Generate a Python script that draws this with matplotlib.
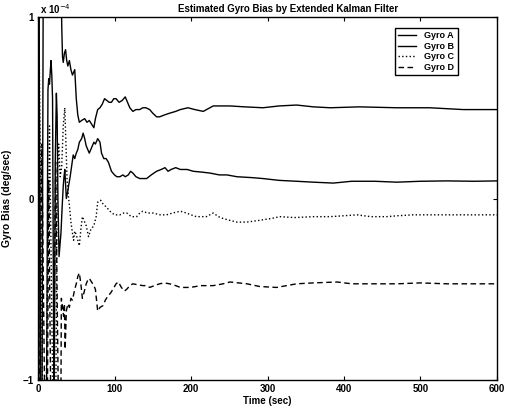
import numpy as np
import matplotlib
matplotlib.use('Agg')
import matplotlib.pyplot as plt

plt.rcParams['font.family'] = ['Liberation Sans', 'DejaVu Sans']

# gyro bias estimates, units of 1e-4 deg/sec
gyro_a_t = [0, 4, 8, 30, 31, 32, 33, 34.5, 36, 37.5, 39, 41, 43, 45, 48, 50, 52, 54, 57, 61, 64, 67,
            70, 73, 75, 78, 81, 84, 87, 90, 93, 96, 99, 102, 106, 110, 114, 117, 120, 124, 128, 133,
            137, 141, 146, 150, 155, 159, 165, 172, 180, 186, 196, 205, 216, 229, 240, 251, 270, 294,
            315, 338, 360, 382, 420, 469, 512, 556, 600]
gyro_a = [3.0, -3.0, 3.0, 1.3, 0.95, 0.78, 0.75, 0.80, 0.82, 0.76, 0.73, 0.76, 0.71, 0.68, 0.71, 0.55,
          0.46, 0.42, 0.43, 0.44, 0.42, 0.43, 0.41, 0.39, 0.44, 0.49, 0.50, 0.52, 0.55, 0.54, 0.53,
          0.53, 0.55, 0.55, 0.53, 0.54, 0.56, 0.53, 0.50, 0.48, 0.49, 0.49, 0.50, 0.50, 0.49, 0.47,
          0.45, 0.45, 0.46, 0.47, 0.48, 0.49, 0.50, 0.49, 0.48, 0.51, 0.51, 0.51, 0.505, 0.50, 0.51,
          0.515, 0.505, 0.50, 0.505, 0.50, 0.50, 0.49, 0.49]

gyro_b_t = [0, 6, 11, 13, 14, 15, 16, 17, 18, 19, 21, 22.5, 24, 25, 26, 27.5, 29, 30, 31.5, 33, 34, 35,
            36, 37, 38.5, 40, 42, 44, 46, 48, 50, 52, 54, 57, 59, 61, 63, 65, 67, 70, 73, 75, 78, 81,
            83, 86, 89, 92, 96, 100, 103, 107, 111, 114, 118, 121, 124, 128, 133, 138, 142, 148, 155,
            161, 166, 170, 174, 180, 186, 195, 203, 215, 225, 237, 247, 260, 280, 294, 315, 338, 360,
            386, 410, 440, 469, 500, 534, 570, 600]
gyro_b = [2.0, -3.0, -1.2, 0.60, 0.66, 0.63, 0.70, 0.76, 0.68, 0.55, -1.3, 0.2, 0.58, 0.45, 0.0, -0.32,
          -0.24, -0.19, -0.05, 0.07, 0.12, 0.16, 0.08, 0.0, 0.03, 0.07, 0.12, 0.18, 0.24, 0.22, 0.25,
          0.27, 0.31, 0.33, 0.36, 0.33, 0.29, 0.27, 0.25, 0.28, 0.31, 0.30, 0.33, 0.31, 0.25, 0.22,
          0.22, 0.20, 0.15, 0.13, 0.12, 0.12, 0.13, 0.12, 0.13, 0.15, 0.14, 0.12, 0.11, 0.11, 0.11,
          0.13, 0.15, 0.16, 0.17, 0.15, 0.16, 0.17, 0.16, 0.16, 0.15, 0.145, 0.14, 0.13, 0.13, 0.12,
          0.115, 0.11, 0.10, 0.095, 0.09, 0.085, 0.095, 0.095, 0.09, 0.095, 0.097, 0.095, 0.097]

gyro_c_t = [0, 8, 15, 22, 25, 27, 29, 31, 33, 35, 36.5, 38, 40, 41.5, 43, 45, 46.5, 48, 50, 52, 54, 56,
            58, 60, 63, 66, 69, 73, 76, 78, 82, 85, 90, 94, 100, 107, 112, 116, 122, 129, 133, 137,
            143, 150, 160, 168, 176, 186, 194, 200, 207, 220, 229, 236, 242, 250, 260, 273, 290, 305,
            316, 335, 360, 382, 400, 417, 435, 456, 470, 490, 520, 556, 600]
gyro_c = [1.5, -2.0, 0.4, -2.0, 0.1, 0.3, 0.12, 0.18, 0.4, 0.5, 0.3, 0.1, 0.0, -0.06, -0.13, -0.19,
          -0.23, -0.18, -0.20, -0.23, -0.26, -0.17, -0.10, -0.12, -0.15, -0.21, -0.17, -0.15, -0.10,
          -0.02, -0.01, -0.03, -0.05, -0.07, -0.09, -0.09, -0.08, -0.08, -0.10, -0.10, -0.08, -0.07,
          -0.08, -0.08, -0.09, -0.09, -0.08, -0.07, -0.08, -0.09, -0.10, -0.10, -0.08, -0.10, -0.11,
          -0.12, -0.13, -0.13, -0.12, -0.11, -0.10, -0.105, -0.10, -0.10, -0.095, -0.09, -0.10,
          -0.10, -0.095, -0.09, -0.09, -0.09, -0.09]

gyro_d_t = [0, 5, 11, 14, 18.5, 23, 29, 30.5, 32, 33.5, 34.5, 35.5, 37, 39, 41, 43, 45, 48, 50, 52, 54,
            56, 58, 60, 63, 65, 67, 70, 73, 75, 78, 81, 85, 88, 91, 95, 98, 102, 105, 109, 113, 116,
            120, 124, 130, 137, 142, 146, 152, 159, 165, 172, 180, 186, 193, 199, 206, 212, 220, 229,
            242, 251, 262, 273, 290, 312, 325, 338, 360, 391, 410, 435, 469, 500, 534, 570, 600]
gyro_d = [-2.0, 0.3, -2.0, 0.1, -2.0, 0.2, -2.0, -0.55, -0.60, -0.65, -0.58, -0.83, -0.62, -0.58,
          -0.60, -0.55, -0.56, -0.50, -0.47, -0.43, -0.41, -0.47, -0.55, -0.52, -0.47, -0.45, -0.44,
          -0.46, -0.48, -0.50, -0.62, -0.60, -0.59, -0.56, -0.54, -0.52, -0.50, -0.47, -0.46, -0.49,
          -0.51, -0.50, -0.48, -0.47, -0.475, -0.48, -0.48, -0.49, -0.48, -0.47, -0.465, -0.47,
          -0.48, -0.49, -0.49, -0.49, -0.485, -0.48, -0.48, -0.48, -0.47, -0.46, -0.465, -0.47,
          -0.485, -0.49, -0.48, -0.47, -0.465, -0.46, -0.47, -0.47, -0.47, -0.465, -0.47, -0.47, -0.47]

fig = plt.figure(figsize=(5.09, 4.09), dpi=100)
ax = fig.add_axes([0.0747, 0.0709, 0.9017, 0.8875])

ax.plot(gyro_a_t, gyro_a, '-', color='k', lw=1.0, label='Gyro A')
ax.plot(gyro_b_t, gyro_b, '-', color='k', lw=1.0, label='Gyro B')
ax.plot(gyro_c_t, gyro_c, ':', color='k', lw=1.0, label='Gyro C')
ax.plot(gyro_d_t, gyro_d, '--', color='k', lw=1.0, label='Gyro D', dashes=(4, 2.5))

ax.set_xlim(0, 600)
ax.set_ylim(-1, 1)
ax.set_xticks([0, 100, 200, 300, 400, 500, 600])
ax.set_yticks([-1, 0, 1])
ax.tick_params(direction='in', top=True, right=True, length=3, width=0.8,
               labelsize=7, pad=3)
for lab in ax.get_xticklabels() + ax.get_yticklabels():
    lab.set_fontweight('bold')
for s in ax.spines.values():
    s.set_linewidth(1.0)

ax.text(0.005, 1.004, r'x 10$^{-4}$', transform=ax.transAxes, ha='left', va='bottom',
        fontsize=7, fontweight='bold')
ax.text(0.545, 1.008, 'Estimated Gyro Bias by Extended Kalman Filter', transform=ax.transAxes,
        ha='center', va='bottom', fontsize=7, fontweight='bold')
ax.set_xlabel('Time (sec)', fontsize=7, fontweight='bold', labelpad=1)
ax.set_ylabel('Gyro Bias (deg/sec)', fontsize=7.5, fontweight='bold', labelpad=8)

leg = ax.legend(loc='upper right', bbox_to_anchor=(0.924, 0.983), fontsize=6.5,
                frameon=True, fancybox=False, edgecolor='k', framealpha=1,
                handlelength=2.0, handletextpad=0.9, borderpad=0.35, labelspacing=0.2)
leg.get_frame().set_linewidth(1.0)
for t in leg.get_texts():
    t.set_fontweight('bold')

fig.savefig('out.png', dpi=100)
